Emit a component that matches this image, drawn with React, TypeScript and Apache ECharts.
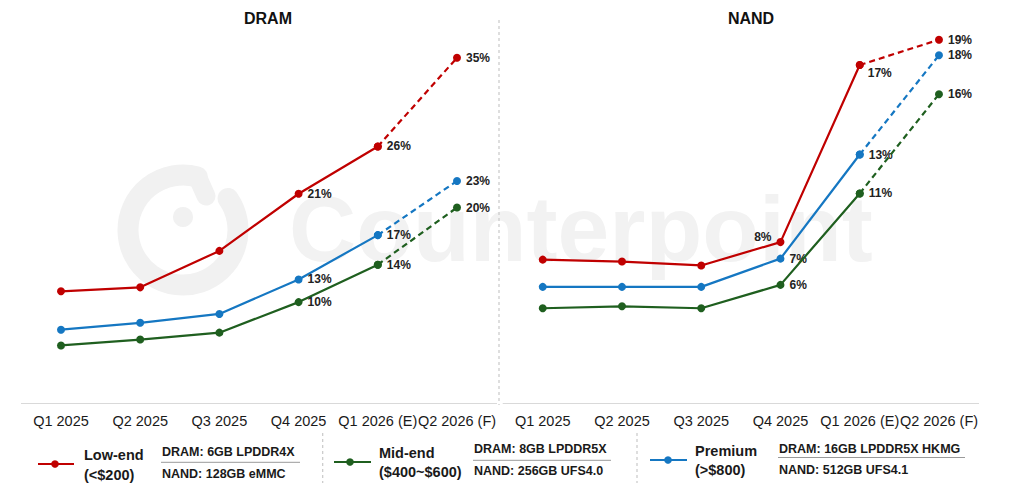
import React, { useEffect, useRef } from "react";
import * as echarts from "echarts";

// ---- data ----
const quarters = ["Q1 2025", "Q2 2025", "Q3 2025", "Q4 2025", "Q1 2026 (E)", "Q2 2026 (F)"];
const panelTitles = ["DRAM", "NAND"];
const segmentNames = ["Low-end", "Mid-end", "Premium"];
const priceRanges = ["(<$200)", "($400~$600)", "(>$800)"];
const dramSpecs = ["DRAM: 6GB LPDDR4X", "DRAM: 8GB LPDDR5X", "DRAM: 16GB LPDDR5X HKMG"];
const nandSpecs = ["NAND: 128GB eMMC", "NAND: 256GB UFS4.0", "NAND: 512GB UFS4.1"];

const dramLowEnd = [11.4, 11.8, 15.5, 21.3, 26.1, 35.1];
const dramMidEnd = [5.9, 6.5, 7.2, 10.3, 14.1, 19.9];
const dramPremium = [7.5, 8.2, 9.1, 12.6, 17.1, 22.6];

const nandLowEnd = [7.4, 7.3, 7.1, 8.3, 17.4, 18.7];
const nandMidEnd = [4.9, 5.0, 4.9, 6.1, 10.8, 15.9];
const nandPremium = [6.0, 6.0, 6.0, 7.45, 12.8, 17.9];

const firstLabelledIndex = 3;
const forecastStartIndex = 4;

// ---- styles ----
const FONT = "'Liberation Sans', Arial, Helvetica, sans-serif";
const COLORS = ["#c00000", "#1f5f1f", "#1577c2"];
const WATERMARK = "#f1f1f1";
const LABEL_OVERRIDES: Record<string, any> = {
  "1-0-3": { position: "left", offset: [0, -5] },
  "1-0-4": { offset: [-1, 8] },
};

function buildSeries(values: number[], segment: number, panel: number) {
  const color = COLORS[segment];
  const baseLabel = {
    position: "right",
    distance: 5,
    fontSize: 12,
    fontWeight: "bold",
    fontFamily: FONT,
    color: "#222",
    formatter: (p: any) => Math.round(p.value) + "%",
  };
  const last = values.length - 1;
  const common = {
    type: "line",
    xAxisIndex: panel,
    yAxisIndex: panel,
    symbol: "circle",
    symbolSize: 8,
    itemStyle: { color },
    z: 3 + (2 - segment),
  };
  const solid = {
    ...common,
    name: segmentNames[segment],
    lineStyle: { color, width: 2.2 },
    data: values.map((v, i) =>
      i <= forecastStartIndex
        ? {
            value: v,
            label: {
              ...baseLabel,
              show: i >= firstLabelledIndex,
              ...(LABEL_OVERRIDES[`${panel}-${segment}-${i}`] || {}),
            },
          }
        : "-"
    ),
  };
  const dashed = {
    ...common,
    name: segmentNames[segment] + " forecast",
    lineStyle: { color, width: 2.2, type: [6, 4] },
    data: values.map((v, i) =>
      i >= forecastStartIndex
        ? {
            value: v,
            label: {
              ...baseLabel,
              show: i === last,
              ...(LABEL_OVERRIDES[`${panel}-${segment}-${i}`] || {}),
            },
          }
        : "-"
    ),
  };
  return [solid, dashed];
}

function legendGraphics() {
  const els: any[] = [];
  const items = [
    { lx0: 38, lx1: 74, ly: 464, mx: 55, tx: 84, t1y: 455, t2y: 474.5, sx: 162, s1y: 451.7, uy: 462.3, ux1: 300, s2y: 473.8 },
    { lx0: 334, lx1: 371, ly: 462, mx: 350, tx: 379, t1y: 453.3, t2y: 471.7, sx: 474, s1y: 449, uy: 460.3, ux1: 611, s2y: 471 },
    { lx0: 650, lx1: 687, ly: 460, mx: 668, tx: 695, t1y: 451, t2y: 470, sx: 779, s1y: 449.3, uy: 457.5, ux1: 965, s2y: 470 },
  ];
  items.forEach((it, k) => {
    const color = COLORS[k];
    els.push({
      type: "line",
      shape: { x1: it.lx0, y1: it.ly, x2: it.lx1, y2: it.ly },
      style: { stroke: color, lineWidth: 2.2 },
      silent: true,
    });
    els.push({
      type: "circle",
      shape: { cx: it.mx, cy: it.ly, r: 3.8 },
      style: { fill: color },
      silent: true,
    });
    els.push({
      type: "text",
      x: it.tx,
      y: it.t1y,
      style: { text: segmentNames[k], font: `bold 14.5px ${FONT}`, fill: "#1a1a1a", align: "left", verticalAlign: "middle" },
      silent: true,
    });
    els.push({
      type: "text",
      x: it.tx,
      y: it.t2y,
      style: { text: priceRanges[k], font: `bold 14.5px ${FONT}`, fill: "#1a1a1a", align: "left", verticalAlign: "middle" },
      silent: true,
    });
    els.push({
      type: "text",
      x: it.sx,
      y: it.s1y,
      style: { text: dramSpecs[k], font: `bold 12.5px ${FONT}`, fill: "#1a1a1a", align: "left", verticalAlign: "middle" },
      silent: true,
    });
    els.push({
      type: "line",
      shape: { x1: it.sx - 1, y1: it.uy, x2: it.ux1, y2: it.uy },
      style: { stroke: "#9a9a9a", lineWidth: 1 },
      silent: true,
    });
    els.push({
      type: "text",
      x: it.sx,
      y: it.s2y,
      style: { text: nandSpecs[k], font: `bold 12.5px ${FONT}`, fill: "#1a1a1a", align: "left", verticalAlign: "middle" },
      silent: true,
    });
  });
  [322.7, 637].forEach((x) => {
    els.push({
      type: "line",
      shape: { x1: x, y1: 433, x2: x, y2: 483 },
      style: { stroke: "#c8c8c8", lineWidth: 1.2, lineDash: [3, 3] },
      silent: true,
    });
  });
  return els;
}

export default function App() {
  const ref = useRef<HTMLDivElement>(null);
  useEffect(() => {
    if (!ref.current) return;
    const chart = echarts.init(ref.current, undefined, { renderer: "svg" });
    const xAxisBase = {
      type: "category",
      data: quarters,
      boundaryGap: true,
      axisTick: { show: false },
      axisLine: { lineStyle: { color: "#d9d9d9", width: 1 } },
      axisLabel: { interval: 0, fontSize: 14.5, color: "#1a1a1a", fontFamily: FONT, margin: 10 },
      splitLine: { show: false },
    };
    const deg = Math.PI / 180;
    const option: any = {
      animation: false,
      backgroundColor: "#ffffff",
      grid: [
        { left: 21.4, top: 29.2, width: 475.2, height: 374.4 },
        { left: 503.1, top: 29.2, width: 475.5, height: 374.4 },
      ],
      xAxis: [
        { ...xAxisBase, gridIndex: 0 },
        { ...xAxisBase, gridIndex: 1 },
      ],
      yAxis: [
        { type: "value", gridIndex: 0, min: 0, max: 38, show: false, splitLine: { show: false } },
        { type: "value", gridIndex: 1, min: 0, max: 19.24, show: false, splitLine: { show: false } },
      ],
      series: [
        ...buildSeries(dramLowEnd, 0, 0),
        ...buildSeries(dramMidEnd, 1, 0),
        ...buildSeries(dramPremium, 2, 0),
        ...buildSeries(nandLowEnd, 0, 1),
        ...buildSeries(nandMidEnd, 1, 1),
        ...buildSeries(nandPremium, 2, 1),
      ],
      graphic: {
        elements: [
          // watermark logo
          {
            type: "arc",
            shape: { cx: 183, cy: 230, r: 55, startAngle: -35 * deg, endAngle: 285 * deg, clockwise: true },
            style: { stroke: WATERMARK, lineWidth: 21, fill: "none", lineCap: "round" },
            z: -10,
            silent: true,
          },
          {
            type: "line",
            shape: { x1: 198, y1: 178, x2: 206, y2: 196 },
            style: { stroke: WATERMARK, lineWidth: 19, lineCap: "round" },
            z: -10,
            silent: true,
          },
          {
            type: "circle",
            shape: { cx: 183, cy: 217, r: 10 },
            style: { fill: WATERMARK },
            z: -10,
            silent: true,
          },
          {
            type: "text",
            x: 289,
            y: 229,
            style: { text: "Counterpoint", font: `bold 93px ${FONT}`, fill: "#f2f2f2", align: "left", verticalAlign: "middle" },
            z: -10,
            silent: true,
          },
          // titles
          {
            type: "text",
            x: 268,
            y: 18,
            style: { text: panelTitles[0], font: `bold 16px ${FONT}`, fill: "#111", align: "center", verticalAlign: "middle" },
            silent: true,
          },
          {
            type: "text",
            x: 751,
            y: 18,
            style: { text: panelTitles[1], font: `bold 16px ${FONT}`, fill: "#111", align: "center", verticalAlign: "middle" },
            silent: true,
          },
          // divider
          {
            type: "line",
            shape: { x1: 499, y1: 20, x2: 499, y2: 405 },
            style: { stroke: "#c8c8c8", lineWidth: 1.2, lineDash: [3, 3] },
            silent: true,
          },
          ...legendGraphics(),
        ],
      },
    };
    chart.setOption(option);
    return () => chart.dispose();
  }, []);
  return (
    <div
      ref={ref}
      style={{ position: "fixed", left: 0, top: 0, width: 1024, height: 493, background: "#fff" }}
    />
  );
}
